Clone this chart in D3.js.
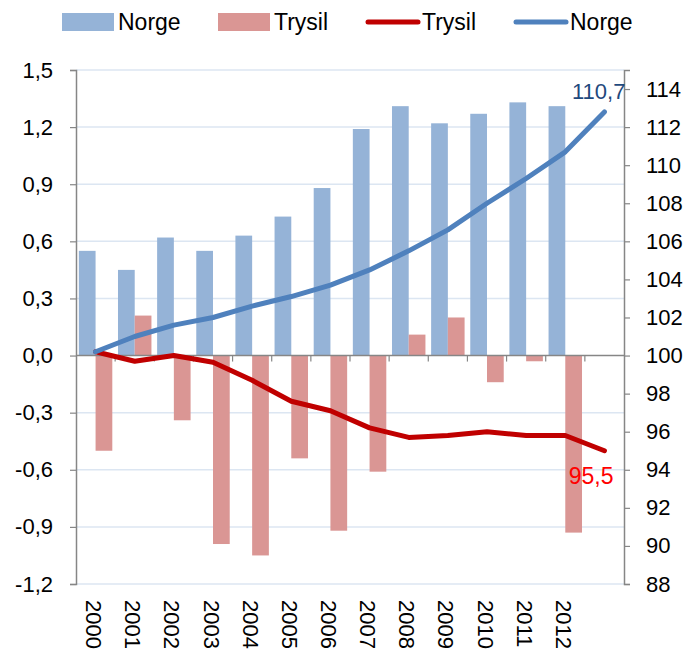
<!DOCTYPE html>
<html>
<head>
<meta charset="utf-8">
<script src="https://cdn.jsdelivr.net/npm/d3@7"></script>
<style>
  body { margin: 0; background: #fff; }
  svg text { font-family: "Liberation Sans", Arial, sans-serif; }
</style>
</head>
<body>
<script>
// data
var years = ["2000","2001","2002","2003","2004","2005","2006","2007","2008","2009","2010","2011","2012","2013"];
var barYears = years.slice(0, 13);
var norgeBars  = [0.55, 0.45, 0.62, 0.55, 0.63, 0.73, 0.88, 1.19, 1.31, 1.22, 1.27, 1.33, 1.31];
var trysilBars = [-0.50, 0.21, -0.34, -0.99, -1.05, -0.54, -0.92, -0.61, 0.11, 0.20, -0.14, -0.03, -0.93];
var norgeIndex  = [100.2, 101.0, 101.6, 102.0, 102.6, 103.1, 103.7, 104.5, 105.5, 106.6, 108.0, 109.3, 110.7, 112.8];
var trysilIndex = [100.2, 99.7, 100.0, 99.65, 98.7, 97.6, 97.1, 96.2, 95.7, 95.8, 96.0, 95.8, 95.8, 95.0];
var leftTicks  = [-1.2, -0.9, -0.6, -0.3, 0, 0.3, 0.6, 0.9, 1.2, 1.5];
var rightTicks = [88, 90, 92, 94, 96, 98, 100, 102, 104, 106, 108, 110, 112, 114];
var endLabels = {norge: "110,7", trysil: "95,5"};

// colors
var cNorgeBar = "#95B3D7", cTrysilBar = "#DA9694",
    cNorgeLine = "#4F81BD", cTrysilLine = "#C00000";

// margin
var margin = {top: 70, right: 61, bottom: 65, left: 76},
    W = 685, H = 649,
    width = W - margin.left - margin.right,
    height = H - margin.top - margin.bottom;

var svg = d3.select("body").append("svg")
    .attr("width", W)
    .attr("height", H);

var g = svg.append("g")
    .attr("transform", "translate(" + margin.left + "," + margin.top + ")");

// scales
var x = d3.scaleBand().domain(years).range([0, width]).padding(0);
var x1 = d3.scaleBand().domain(["Norge", "Trysil"]).range([0, x.bandwidth()])
    .paddingInner(0).paddingOuter(0.17);
var yL = d3.scaleLinear().domain([-1.2, 1.5]).range([height, 0]);
var yR = d3.scaleLinear().domain([88, 115]).range([height, 0]);

// gridlines
g.append("g").selectAll("line")
    .data(leftTicks.filter(function(d) { return d !== 0; }))
    .enter().append("line")
    .attr("x1", 0).attr("x2", width)
    .attr("y1", function(d) { return yL(d); })
    .attr("y2", function(d) { return yL(d); })
    .attr("stroke", "#DCE6F2")
    .attr("stroke-width", 1.5);

// bars
var bg = g.append("g").selectAll("g")
    .data(barYears)
    .enter().append("g")
    .attr("transform", function(d) { return "translate(" + x(d) + ",0)"; });

bg.append("rect")
    .attr("x", x1("Norge"))
    .attr("width", x1.bandwidth())
    .attr("y", function(d, i) { return yL(Math.max(0, norgeBars[i])); })
    .attr("height", function(d, i) { return Math.abs(yL(norgeBars[i]) - yL(0)); })
    .attr("fill", cNorgeBar);

bg.append("rect")
    .attr("x", x1("Trysil"))
    .attr("width", x1.bandwidth())
    .attr("y", function(d, i) { return yL(Math.max(0, trysilBars[i])); })
    .attr("height", function(d, i) { return Math.abs(yL(trysilBars[i]) - yL(0)); })
    .attr("fill", cTrysilBar);

// category axis at zero
var xAxis = g.append("g")
    .attr("transform", "translate(0," + yL(0) + ")");
xAxis.append("line")
    .attr("x1", 0).attr("x2", width)
    .attr("stroke", "#868686").attr("stroke-width", 1.5);
xAxis.selectAll(".tk")
    .data(years.slice(1))
    .enter().append("line")
    .attr("x1", function(d) { return x(d); })
    .attr("x2", function(d) { return x(d); })
    .attr("y1", 0).attr("y2", 6)
    .attr("stroke", "#868686").attr("stroke-width", 1.2);

// year labels at bottom, rotated
g.append("g").selectAll("text")
    .data(barYears)
    .enter().append("text")
    .attr("transform", function(d) {
        return "translate(" + (x(d) + x.bandwidth() / 2 - 9.5) + "," + (height + 16) + ") rotate(90)";
    })
    .attr("font-size", 22)
    .attr("fill", "#000")
    .text(function(d) { return d; });

// left axis
var axL = g.append("g")
    .call(d3.axisLeft(yL).tickValues(leftTicks).tickSize(6).tickPadding(17)
        .tickFormat(function(d) { return d3.format(".1f")(d).replace(".", ",").replace("−", "-"); }));
axL.select(".domain").attr("stroke", "#868686").attr("stroke-width", 1.5);
axL.selectAll(".tick line").attr("stroke", "#868686").attr("stroke-width", 1.2);
axL.selectAll("text").attr("font-size", 22).attr("fill", "#000")
    .attr("font-family", "Liberation Sans, Arial, sans-serif");

// right axis
var axR = g.append("g")
    .attr("transform", "translate(" + width + ",0)")
    .call(d3.axisRight(yR).tickValues(rightTicks).tickSize(6).tickPadding(16));
axR.select(".domain").attr("stroke", "#868686").attr("stroke-width", 1.5);
axR.selectAll(".tick line").attr("stroke", "#868686").attr("stroke-width", 1.2);
axR.selectAll("text").attr("font-size", 22).attr("fill", "#000")
    .attr("font-family", "Liberation Sans, Arial, sans-serif");

// lines
var line = d3.line()
    .x(function(d, i) { return x(years[i]) + x.bandwidth() / 2; })
    .y(function(d) { return yR(d); });

g.append("path")
    .datum(trysilIndex)
    .attr("d", line)
    .attr("fill", "none")
    .attr("stroke", cTrysilLine)
    .attr("stroke-width", 5)
    .attr("stroke-linejoin", "round")
    .attr("stroke-linecap", "round");

g.append("path")
    .datum(norgeIndex)
    .attr("d", line)
    .attr("fill", "none")
    .attr("stroke", cNorgeLine)
    .attr("stroke-width", 5)
    .attr("stroke-linejoin", "round")
    .attr("stroke-linecap", "round");

// end labels
var lastX = x(years[years.length - 1]) + x.bandwidth() / 2;
g.append("text")
    .attr("x", lastX + 21).attr("y", yR(norgeIndex[norgeIndex.length - 1]) - 13)
    .attr("text-anchor", "end")
    .attr("font-size", 22)
    .attr("fill", "#1F497D")
    .text(endLabels.norge);
g.append("text")
    .attr("x", lastX + 9).attr("y", yR(trysilIndex[trysilIndex.length - 1]) + 33)
    .attr("text-anchor", "end")
    .attr("font-size", 23)
    .attr("fill", "#FF0000")
    .text(endLabels.trysil);

// legend
var legend = svg.append("g");
var items = [
    {type: "rect", color: cNorgeBar, label: "Norge", x: 62},
    {type: "rect", color: cTrysilBar, label: "Trysil", x: 218},
    {type: "line", color: cTrysilLine, label: "Trysil", x: 366},
    {type: "line", color: cNorgeLine, label: "Norge", x: 514}
];
items.forEach(function(it) {
    if (it.type === "rect") {
        legend.append("rect")
            .attr("x", it.x).attr("y", 13)
            .attr("width", 52).attr("height", 18)
            .attr("fill", it.color);
    } else {
        legend.append("line")
            .attr("x1", it.x + 2).attr("x2", it.x + 52)
            .attr("y1", 22).attr("y2", 22)
            .attr("stroke", it.color).attr("stroke-width", 5)
            .attr("stroke-linecap", "round");
    }
    legend.append("text")
        .attr("x", it.x + 56).attr("y", 30)
        .attr("font-size", 23)
        .attr("fill", "#000")
        .text(it.label);
});
</script>
</body>
</html>
